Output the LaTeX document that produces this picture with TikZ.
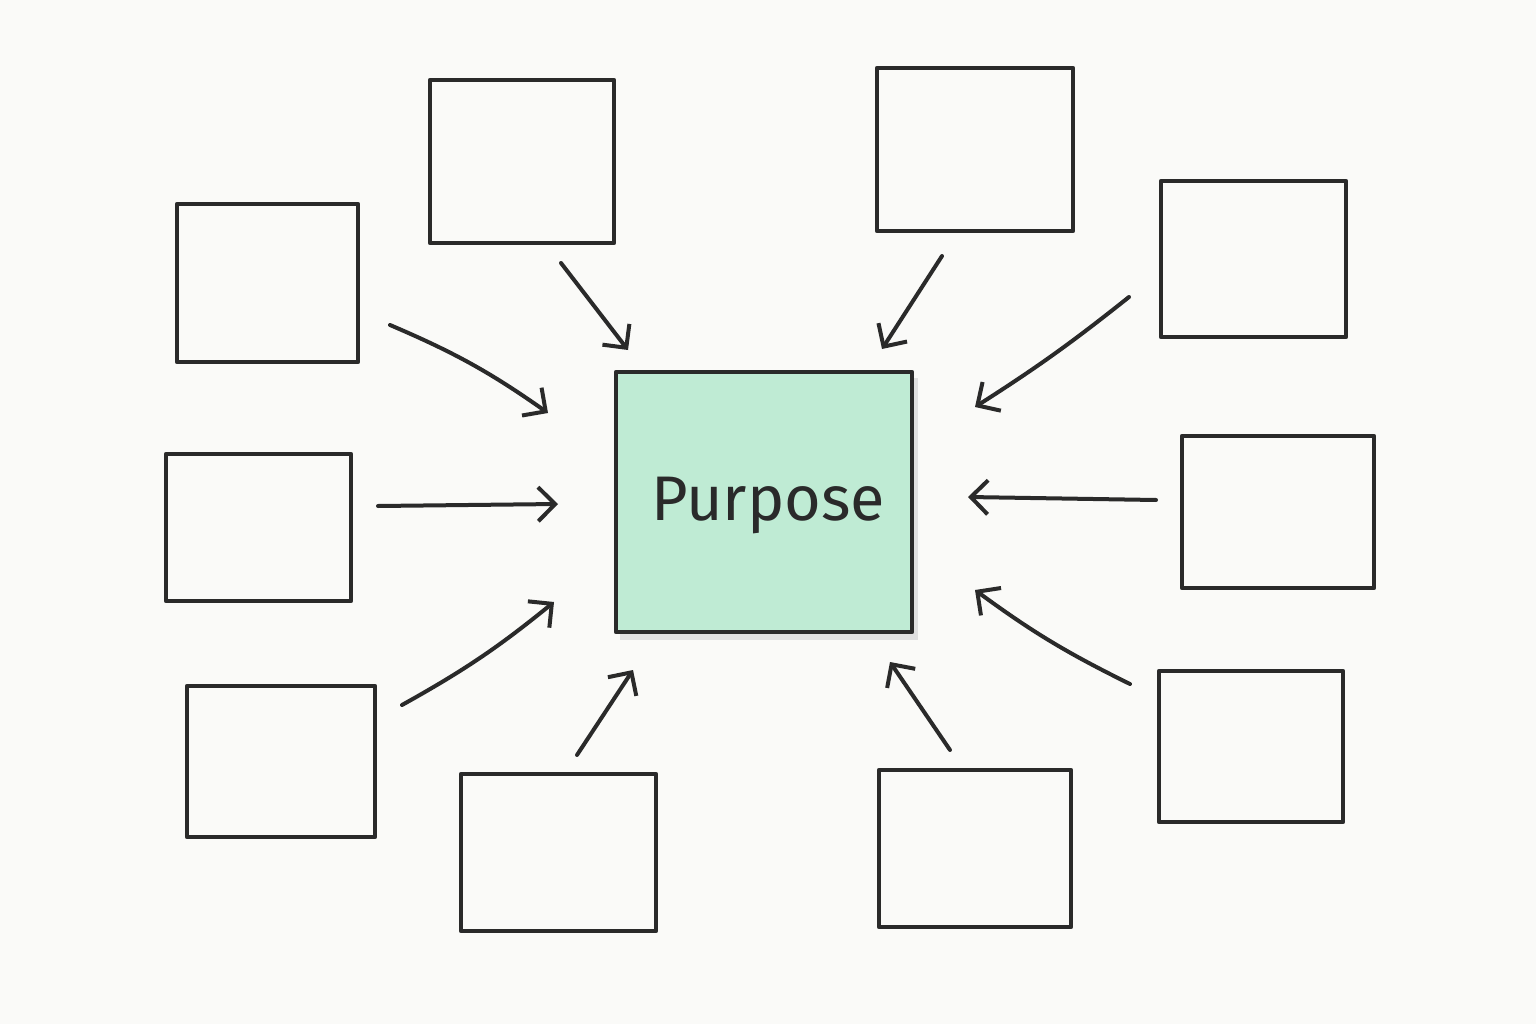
\documentclass[tikz,border=0pt]{standalone}
\usepackage{fontspec}
\setmainfont{Fira Sans}
\usetikzlibrary{arrows.meta}
\definecolor{ink}{HTML}{2A2A2A}
\definecolor{mint}{HTML}{BFEBD4}
\definecolor{paper}{HTML}{FAFAF8}
\tikzset{
  box/.style={draw=ink, line width=4.6pt, line join=round},
  conn/.style={draw=ink, line width=4pt, line cap=round, -{Straight Barb[length=17pt,width=34pt,line width=4pt]}}
}
\begin{document}
\begin{tikzpicture}[x=1pt,y=-1pt]
\fill[paper] (0,0) rectangle (1536,1024);
\useasboundingbox (0,0) rectangle (1536,1024);
% satellite boxes
\draw[box] (430,80) rectangle (614,243) node[coordinate] (b1) {};
\draw[box] (877,68) rectangle (1073,231) node[coordinate] (b2) {};
\draw[box] (177,204) rectangle (358,362) node[coordinate] (b3) {};
\draw[box] (1161,181) rectangle (1346,337) node[coordinate] (b4) {};
\draw[box] (166,454) rectangle (351,601) node[coordinate] (b5) {};
\draw[box] (1182,436) rectangle (1374,588) node[coordinate] (b6) {};
\draw[box] (187,686) rectangle (375,837) node[coordinate] (b7) {};
\draw[box] (1159,671) rectangle (1343,822) node[coordinate] (b8) {};
\draw[box] (461,774) rectangle (656,931) node[coordinate] (b9) {};
\draw[box] (879,770) rectangle (1071,927) node[coordinate] (b10) {};
% centre
\fill[black!12] (620,378) rectangle (918,640);
\node[box, fill=mint, minimum width=296pt, minimum height=260pt, inner sep=0pt] (c) at (764,502) {};
\node[font=\fontsize{63}{70}\selectfont, text=ink, inner sep=0pt] (t) at (768,506) {Purpose};
% arrow endpoints
\coordinate (s1) at (561,263); \coordinate (e1) at (628,350);
\coordinate (s2) at (942,256); \coordinate (e2) at (882,349);
\coordinate (s3) at (390,325); \coordinate (e3) at (548,413);
\coordinate (s4) at (1129,297); \coordinate (e4) at (975,407);
\coordinate (s5) at (378,506); \coordinate (e5) at (558,504);
\coordinate (s6) at (1156,500); \coordinate (e6) at (968,497);
\coordinate (s7) at (402,705); \coordinate (e7) at (554,602);
\coordinate (s8) at (1130,684); \coordinate (e8) at (975,590);
\coordinate (s9) at (577,755); \coordinate (e9) at (633,670);
\coordinate (s10) at (950,750); \coordinate (e10) at (890,662);
\draw[conn] (s1) -- (e1);
\draw[conn] (s2) -- (e2);
\draw[conn] (s3) to[bend left=6] (e3);
\draw[conn] (s4) to[bend left=3] (e4);
\draw[conn] (s5) -- (e5);
\draw[conn] (s6) -- (e6);
\draw[conn] (s7) to[bend right=5] (e7);
\draw[conn] (s8) to[bend left=5] (e8);
\draw[conn] (s9) -- (e9);
\draw[conn] (s10) -- (e10);
\end{tikzpicture}
\end{document}
